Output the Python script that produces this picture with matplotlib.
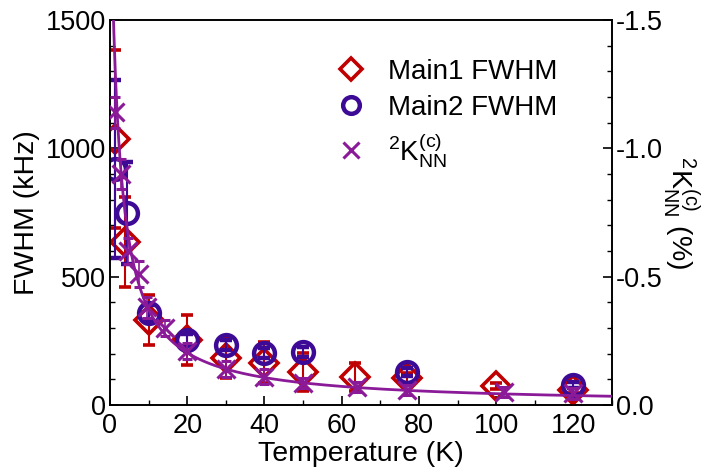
import numpy as np
import matplotlib
matplotlib.use("Agg")
import matplotlib.pyplot as plt
from matplotlib.lines import Line2D
from matplotlib.ticker import MultipleLocator, FormatStrFormatter

plt.rcParams['font.family'] = ['Liberation Sans', 'DejaVu Sans']
plt.rcParams['mathtext.fontset'] = 'custom'
plt.rcParams['mathtext.rm'] = 'Liberation Sans'
plt.rcParams['mathtext.it'] = 'Liberation Sans'

# Main1 FWHM (kHz)
t_main1 = [1.3, 3.9, 10, 20, 30, 40, 50, 63.4, 77, 100, 120]
fwhm_main1 = [1036, 635, 331, 253, 183, 164, 129, 109, 105, 74, 58]
err_main1 = [347, 175, 97, 97, 78, 80, 75, 55, 20, 10, 10]

# Main2 FWHM (kHz)
t_main2 = [1.3, 4.3, 10, 20, 30, 40, 50, 77, 120]
fwhm_main2 = [920, 748, 358, 253, 234, 203, 206, 129, 78]
err_main2 = [347, 200, 30, 25, 20, 20, 20, 15, 10]

# 2K_NN^(c) (%)
t_knn = [1.3, 2.8, 4.7, 7.5, 9.6, 14.3, 20, 30, 40, 50, 64, 77, 102, 120]
k_knn = [-1.14, -0.90, -0.60, -0.51, -0.38, -0.30, -0.21, -0.14, -0.11, -0.086, -0.07, -0.058, -0.05, -0.045]
err_knn = [0.06, 0.06, 0.05, 0.05, 0.04, 0.03, 0.03, 0.03, 0.03, 0.02, 0.02, 0.02, 0.02, 0.02]

# fit curve K = -C/(T + theta)  (%)
fit_C = 4.5
fit_theta = 2.1

red = '#C00000'
indigo = '#3D0A96'
purple = '#8A1A98'

fig = plt.figure(figsize=(7.12, 4.76), dpi=100)
ax = fig.add_axes([110/712, 1-405/476, 502/712, 385/476])
ax2 = ax.twinx()

ax.errorbar(t_main1, fwhm_main1, yerr=err_main1, fmt='D', ms=14, mfc='none',
            mec=red, mew=2.6, ecolor=red, elinewidth=1.5, capsize=4.5, capthick=1.5, zorder=3)
ax.errorbar(t_main2, fwhm_main2, yerr=err_main2, fmt='o', ms=15, mfc='none',
            mec=indigo, mew=3.2, ecolor=indigo, elinewidth=1.5, capsize=4.5, capthick=1.5, zorder=4)

ax2.errorbar(t_knn, k_knn, yerr=err_knn, fmt='x', ms=13, mec=purple, mew=2.2,
             ecolor=purple, elinewidth=1.2, capsize=3.5, capthick=1.2, zorder=3)
tt = np.linspace(0.5, 130, 800)
ax2.plot(tt, -fit_C / (tt + fit_theta), color=purple, lw=2, zorder=5)

ax.set_xlim(0, 130)
ax.set_ylim(0, 1500)
ax2.set_ylim(0, -1.5)

ax.xaxis.set_major_locator(MultipleLocator(20))
ax.xaxis.set_minor_locator(MultipleLocator(10))
ax.yaxis.set_major_locator(MultipleLocator(500))
ax.yaxis.set_minor_locator(MultipleLocator(100))
ax2.yaxis.set_major_locator(MultipleLocator(0.5))
ax2.yaxis.set_minor_locator(MultipleLocator(0.1))
ax2.yaxis.set_major_formatter(FormatStrFormatter('%.1f'))

for a in (ax, ax2):
    a.tick_params(which='major', direction='in', length=6.5, width=1.2, labelsize=19.5)
    a.tick_params(which='minor', direction='in', length=3.6, width=1.0)
    for s in a.spines.values():
        s.set_linewidth(1.2)
ax.tick_params(axis='x', which='major', pad=6)
ax.tick_params(axis='y', which='major', pad=3)
ax2.tick_params(axis='y', which='major', pad=3)
ax.tick_params(top=False, which='both')

ax.set_xlabel('Temperature (K)', fontsize=20.5, labelpad=1)
ax.set_ylabel('FWHM (kHz)', fontsize=20.5, labelpad=4)
ax2.set_ylabel(r'$^2$K$^{(\mathrm{c})}_{\mathrm{NN}}$ (%)', fontsize=20.5, rotation=270, labelpad=27)

handles = [
    Line2D([], [], ls='none', marker='D', ms=11, mfc='none', mec=red, mew=2.6),
    Line2D([], [], ls='none', marker='o', ms=12, mfc='none', mec=indigo, mew=3.2),
    Line2D([], [], ls='none', marker='x', ms=11, mec=purple, mew=2.2),
]
labels = ['Main1 FWHM', 'Main2 FWHM', r'$^2$K$^{(\mathrm{c})}_{\mathrm{NN}}$']
leg = ax2.legend(handles, labels, loc='upper left', bbox_to_anchor=(326/712, 1-48/476),
                 bbox_transform=fig.transFigure, frameon=False, fontsize=20,
                 handletextpad=0.85, labelspacing=0.35, borderaxespad=0, handlelength=1.0)

fig.savefig('out.png', dpi=100)
